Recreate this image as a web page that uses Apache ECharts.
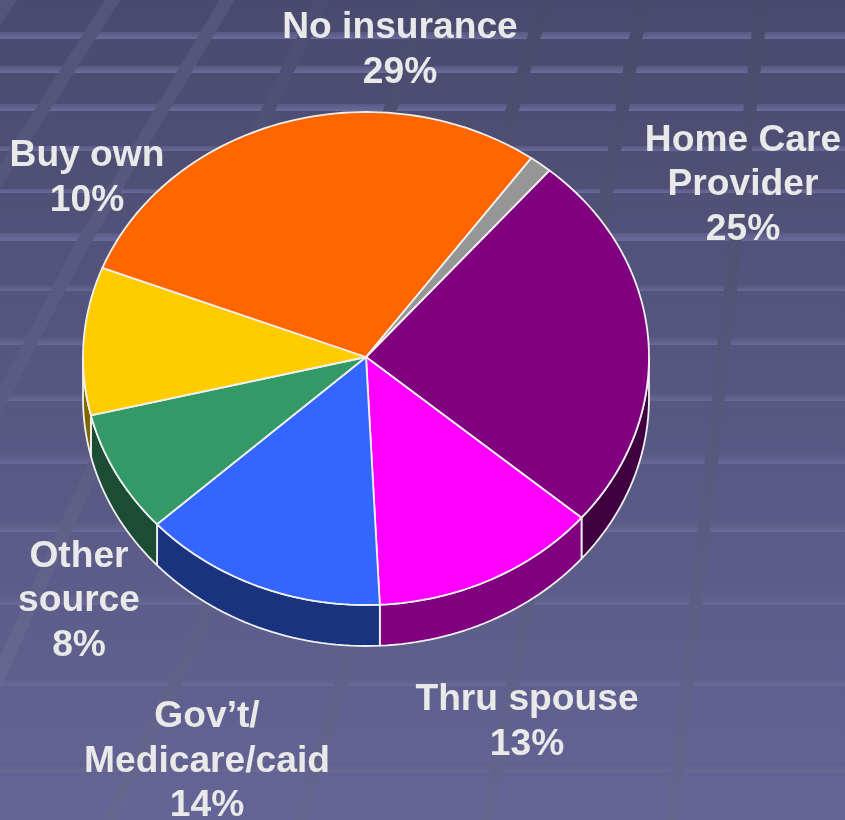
<!DOCTYPE html>
<html>
<head>
<meta charset="utf-8">
<style>html,body{margin:0;padding:0;background:#565680}#chart{width:845px;height:820px}</style>
<script src="https://cdn.jsdelivr.net/npm/echarts@6/dist/echarts.min.js"></script>
</head>
<body>
<div id="chart"></div>
<script>
// ---- data, clockwise from the first slice ----
const categories = ['Home Care\nProvider', 'Thru spouse', 'Gov\u2019t/\nMedicare/caid', 'Other\nsource', 'Buy own', 'No insurance', ''];
const shares = [25, 13, 14, 8, 9.7, 29, 1.3];
const topColors = ['#800080', '#ff00ff', '#3366ff', '#339966', '#ffcc00', '#ff6600', '#969696'];
const sideColors = ['#400040', '#800080', '#19337f', '#1a4d33', '#806600', '#803300', '#4b4b4b'];

// ---- layout, separate from the data ----
const labelCenters = [[743, 185], [527, 722.5], [207, 761.5], [79, 601], [87, 178.5], [400, 50.5], null];
const pie = { cx: 366, cy: 357, rx: 283, ryTop: 245, ryBottom: 248, depth: 41, startDeg: 40.4 };
const bandBottoms = [39, 73, 111, 151, 193, 241, 291, 345, 401, 464, 532, 605, 686, 772];
const bandHeights = [7, 7, 7, 5, 4, 8, 6, 8, 8, 10, 10, 13, 10, 10];
const rays = [
  { pts: [[763, -10], [671, 830]], c: ['#494969', '#65658f'] },
  { pts: [[645, -10], [485, 830]], c: ['#494969', '#65658f'] },
  { pts: [[548, -10], [297, 830]], c: ['#494969', '#65658f'] },
  { pts: [[434, -10], [197, 637], [105, 830]], c: ['#4a4a6c', '#67678f'] },
  { pts: [[327, -10], [100, 453], [-10, 695]], c: ['#4c4c70', '#67678f'] },
  { pts: [[233, -10], [83, 243], [-10, 420]], c: ['#55557b', '#5b5b84'] },
  { pts: [[119, -10], [-10, 192]], c: ['#55557a', '#56567c'] },
  { pts: [[16, -10], [-10, 28]], c: ['#55557a', '#55557a'] }
];

const total = shares.reduce((a, b) => a + b, 0);
let run = 0;
const rows = shares.map((v) => { const r = [run, v]; run += v; return r; });

function pt(deg, drop) {
  const a = deg * Math.PI / 180, s = Math.sin(a), c = -Math.cos(a);
  return [pie.cx + pie.rx * s, pie.cy + (c < 0 ? pie.ryTop : pie.ryBottom) * c + (drop || 0)];
}
function arc(a0, a1, drop) {
  const n = Math.max(2, Math.ceil(Math.abs(a1 - a0) / 1.5)), out = [];
  for (let i = 0; i <= n; i++) out.push(pt(a0 + (a1 - a0) * i / n, drop));
  return out;
}
function span(api) {
  const a0 = pie.startDeg + api.value(0) / total * 360;
  return [a0, a0 + api.value(1) / total * 360];
}
const edge = { stroke: '#f0f0f0', lineWidth: 1.8, lineJoin: 'round' };

function renderSide(params, api) {
  const [a0, a1] = span(api);
  const kids = [];
  [[90, 270], [450, 630]].forEach(([lo, hi]) => {
    const s = Math.max(a0, lo), e = Math.min(a1, hi);
    if (e > s) {
      kids.push({
        type: 'polygon',
        shape: { points: arc(s, e, 0).concat(arc(e, s, pie.depth)) },
        style: Object.assign({ fill: sideColors[params.dataIndex] }, edge)
      });
    }
  });
  return { type: 'group', children: kids };
}
function renderTop(params, api) {
  const [a0, a1] = span(api);
  return {
    type: 'polygon',
    shape: { points: [[pie.cx, pie.cy]].concat(arc(a0, a1, 0)) },
    style: Object.assign({ fill: topColors[params.dataIndex] }, edge)
  };
}
function renderLabel(params, api) {
  const c = labelCenters[params.dataIndex];
  if (!c) return null;
  return {
    type: 'text',
    x: c[0], y: c[1],
    style: {
      text: categories[params.dataIndex] + '\n' + Math.round(api.value(1)) + '%',
      fill: '#e9e9e9',
      font: 'bold 37.2px "Liberation Sans", Arial, sans-serif',
      lineHeight: 44.6,
      align: 'center',
      verticalAlign: 'middle'
    }
  };
}

const graphics = [];
bandBottoms.forEach((b, i) => {
  const h = bandHeights[i];
  graphics.push({
    type: 'rect', z: 1, silent: true,
    shape: { x: 0, y: b - h, width: 845, height: h },
    style: {
      fill: new echarts.graphic.LinearGradient(0, 0, 0, 1, [
        { offset: 0, color: i < 6 ? 'rgba(104,104,152,0.45)' : 'rgba(92,92,132,0.4)' },
        { offset: 1, color: i < 6 ? '#6b6b9c' : '#6a6a98' }
      ])
    }
  });
});
rays.forEach((r) => {
  graphics.push({
    type: 'polyline', z: 2, silent: true,
    shape: { points: r.pts },
    style: {
      fill: null,
      lineWidth: 13,
      stroke: new echarts.graphic.LinearGradient(0, 0, 0, 1, [
        { offset: 0, color: r.c[0] }, { offset: 1, color: r.c[1] }
      ])
    }
  });
});

const chart = echarts.init(document.getElementById('chart'), null, { renderer: 'canvas' });
chart.setOption({
  animation: false,
  backgroundColor: new echarts.graphic.LinearGradient(0, 0, 0, 1, [
    { offset: 0, color: '#4a4a6e' },
    { offset: 1, color: '#646496' }
  ]),
  graphic: { elements: graphics },
  series: [
    { type: 'custom', coordinateSystem: 'none', silent: true, z: 3, data: rows, renderItem: renderSide },
    { type: 'custom', coordinateSystem: 'none', silent: true, z: 4, data: rows, renderItem: renderTop },
    { type: 'custom', coordinateSystem: 'none', silent: true, z: 5, data: rows, renderItem: renderLabel }
  ]
});
</script>
</body>
</html>
